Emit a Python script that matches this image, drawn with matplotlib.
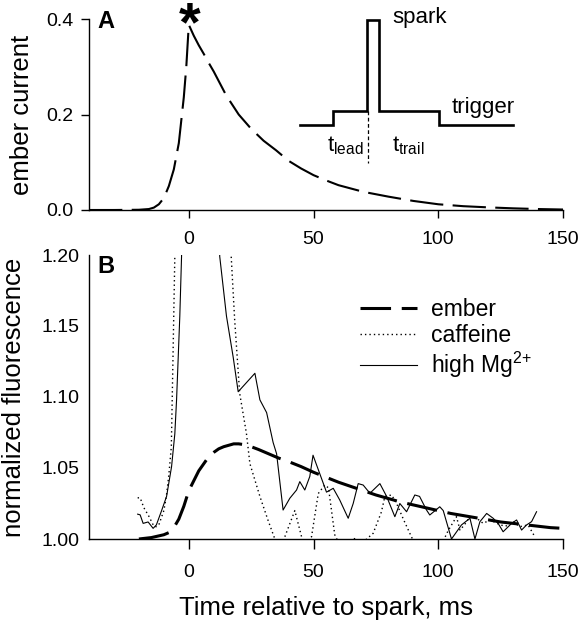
import matplotlib
matplotlib.use("Agg")
import matplotlib.pyplot as plt
from matplotlib.lines import Line2D

plt.rcParams['font.family'] = ['Liberation Sans', 'DejaVu Sans']
plt.rcParams['mathtext.fontset'] = 'custom'
plt.rcParams['mathtext.rm'] = 'Liberation Sans'
plt.rcParams['mathtext.it'] = 'Liberation Sans:italic'
plt.rcParams['mathtext.bf'] = 'Liberation Sans:bold'

# ---------------- data ----------------
# Panel A: ember current
ember_a_t = [-40, -30, -20, -16, -14, -12, -10, -8, -6, -4, -2, -1, 0,
             2, 4, 6, 8, 10, 15, 20, 25, 30, 35, 40, 45, 50, 55, 60, 70,
             80, 90, 100, 110, 120, 130, 140, 150]
ember_a_v = [0.0, 0.0, 0.0005, 0.002, 0.005, 0.012, 0.025, 0.05, 0.085, 0.14,
             0.236, 0.30, 0.388,
             0.365, 0.345, 0.327, 0.308, 0.29, 0.24, 0.20, 0.17, 0.145, 0.125,
             0.103, 0.087, 0.073, 0.062, 0.052, 0.038,
             0.028, 0.019, 0.012, 0.008, 0.0055, 0.0035, 0.002, 0.001]

# trigger schematic (inset in panel A)
trigger_t = [44.5, 57.9, 57.9, 71.3, 71.3, 76.3, 76.3, 100.4, 100.4, 130.0]
trigger_v = [0.178, 0.178, 0.207, 0.207, 0.397, 0.397, 0.207, 0.207, 0.178, 0.178]
spark_mark_t = [71.7, 71.7]
spark_mark_v = [0.207, 0.098]

# Panel B: ember (model) fluorescence
ember_b_t = [-20, -15, -10, -8, -6, -4, -2, 0, 2, 4, 6, 8, 10, 12, 14, 16, 18,
             20, 22, 25, 28, 32, 36, 40, 45, 50, 55, 60, 65, 70, 75, 80, 85,
             90, 95, 100, 105, 110, 115, 120, 125, 130, 135, 140, 145, 150]
ember_b_v = [1.0, 1.001, 1.003, 1.0045, 1.008, 1.014, 1.023, 1.034, 1.041,
             1.048, 1.053, 1.058, 1.061, 1.0635, 1.065, 1.066, 1.067, 1.067,
             1.0665, 1.065, 1.063, 1.060, 1.057, 1.0545, 1.051, 1.047, 1.0435,
             1.040, 1.037, 1.034, 1.031, 1.0285, 1.026, 1.024, 1.022, 1.020,
             1.018, 1.0165, 1.015, 1.0135, 1.012, 1.011, 1.010, 1.009, 1.008,
             1.0075]

# caffeine
caff_t = [-20.5, -19.5, -18, -16, -14, -13, -12, -10, -9, -8, -7, -6.3, -5.6,
          -4.5, -3, 0, 5, 10, 14, 17, 18.4, 20.4, 23.1, 24.5, 28.5, 31.8, 34.5,
          36.5, 38.5, 42.5, 45.2, 47, 49.2, 51.9, 54.5, 56, 58.5, 61, 63.5,
          65.9, 70, 73.9, 77.2, 78.6, 81.3, 83.3, 86, 88.6, 91, 96, 101,
          104, 107.3, 108.7, 110.5, 112.7, 115.4, 118, 120.7, 122.5, 124.7,
          127, 130, 132.7, 136, 138.7]
caff_v = [1.029, 1.029, 1.022, 1.016, 1.009, 1.0087, 1.010, 1.020, 1.030,
          1.045, 1.065, 1.131, 1.199,
          1.30, 1.5, 1.8, 1.9, 1.7, 1.4, 1.199, 1.154, 1.1026, 1.0744, 1.053,
          1.030, 1.013, 1.0,
          0.995, 1.0016, 1.020, 1.0016, 0.995, 1.0016, 1.032, 1.038, 1.036,
          1.003, 0.994, 0.992,
          1.0005, 0.998, 1.004, 1.019, 1.030, 1.031, 1.025, 1.014, 1.004,
          0.995, 0.99, 0.995,
          1.006, 1.0157, 1.0063, 1.010, 1.0157, 1.0146, 1.011, 1.0134, 1.012,
          1.010, 1.009, 1.0122, 1.0087, 1.0099, 1.0016]

# high Mg2+
mg_t = [-20.5, -19.5, -18.3, -16.3, -14.3, -13, -10.9, -8.9, -6.9, -5.6,
        -4.9, -3.6, -2.9, -2, 0, 5, 10, 12.4, 15.1, 17.8, 19.8, 26.5, 28.5,
        31.2, 33.8, 35.2, 37.8, 40.5, 43.2, 44.5, 46.5, 48.5, 49.8, 52.5,
        55.2, 57.9, 60.5, 63.9, 65.9, 67.9, 69.9, 72.6, 75.3, 76.6, 79.3,
        82.6, 84.6, 87.3, 90.6, 92.5, 95.3, 96.6, 100.6, 102, 105.3, 109.3,
        112.7, 114.7, 116.7, 119.4, 122, 124, 126, 129.4, 131.4, 133.4,
        135.4, 137.4, 139.4]
mg_v = [1.0175, 1.017, 1.011, 1.012, 1.0075, 1.0099, 1.020, 1.030, 1.051,
        1.074, 1.098, 1.157, 1.199, 1.3, 1.6, 1.8, 1.4, 1.199, 1.157, 1.128,
        1.1037, 1.1167, 1.098, 1.089, 1.068, 1.060, 1.0204, 1.0287, 1.0345,
        1.0404, 1.0345, 1.044, 1.059, 1.046, 1.033, 1.0357, 1.0275, 1.0146,
        1.025, 1.039, 1.038, 1.0322, 1.0368, 1.039, 1.030, 1.0157, 1.025,
        1.0192, 1.031, 1.030, 1.0204, 1.0169, 1.0227, 1.020, 1.0, 1.0099,
        1.0146, 1.0, 1.0122, 1.018, 1.0146, 1.011, 1.0051, 1.011, 1.0134,
        1.0063, 1.0099, 1.0122, 1.0192]

xticks = [0, 50, 100, 150]
a_yticks = [0.0, 0.2, 0.4]
a_yticklabels = ['0.0', '0.2', '0.4']
b_yticks = [1.00, 1.05, 1.10, 1.15, 1.20]
b_yticklabels = ['1.00', '1.05', '1.10', '1.15', '1.20']

# ---------------- figure ----------------
W, H = 580, 626
fig = plt.figure(figsize=(W / 100, H / 100), dpi=100)
axA = fig.add_axes([89 / W, 1 - 210 / H, 474 / W, 191 / H])
axB = fig.add_axes([89 / W, 1 - 539 / H, 474 / W, 284 / H])

for ax in (axA, axB):
    ax.spines['top'].set_visible(False)
    ax.spines['right'].set_visible(False)
    ax.spines['left'].set_linewidth(1.0)
    ax.spines['bottom'].set_linewidth(1.0)
    ax.set_xlim(-40, 150)
    ax.set_xticks(xticks)
    ax.set_xticklabels([str(t) for t in xticks])
    ax.tick_params(labelsize=14, colors='black', width=1.0)

# Panel A
axA.plot(ember_a_t, ember_a_v, color='black', lw=1.5, dashes=(16, 4.5))
axA.set_ylim(0, 0.4)
axA.set_yticks(a_yticks)
axA.set_yticklabels(a_yticklabels)
axA.tick_params(axis='x', length=6, pad=9)
axA.tick_params(axis='y', length=6, pad=5)
axA.set_ylabel('ember current', fontsize=18.5, labelpad=9)
axA.text(0.017, 0.987, 'A', transform=axA.transAxes, fontsize=17,
         fontweight='bold', ha='left', va='center')
axA.text(0.4, 0.356, '*', fontsize=40, fontweight='bold', ha='center',
         va='baseline', clip_on=False)

axA.plot(trigger_t, trigger_v, color='black', lw=1.9, solid_joinstyle='miter')
axA.plot(spark_mark_t, spark_mark_v, color='black', lw=0.9, dashes=(3, 2))
axA.text(81.5, 0.404, 'spark', fontsize=16, ha='left', va='center')
axA.text(105.3, 0.215, 'trigger', fontsize=16, ha='left', va='center')
axA.text(55.3, 0.135, r't$_{\mathrm{lead}}$', fontsize=16, ha='left', va='center')
axA.text(81.3, 0.135, r't$_{\mathrm{trail}}$', fontsize=16, ha='left', va='center')

# Panel B
axB.plot(ember_b_t, ember_b_v, color='black', lw=2.2, dashes=(10, 3.5))
axB.plot(caff_t, caff_v, color='black', lw=1.0, dashes=(1, 2.2))
axB.plot(mg_t, mg_v, color='black', lw=0.8)
axB.set_ylim(1.0, 1.2)
axB.set_yticks(b_yticks)
axB.set_yticklabels(b_yticklabels)
axB.tick_params(axis='x', length=7, pad=11)
axB.tick_params(axis='y', length=0, pad=7)
axB.set_ylabel('normalized fluorescence', fontsize=18.5, labelpad=11)
axB.set_xlabel('Time relative to spark, ms', fontsize=18.5, labelpad=11)
axB.text(0.017, 0.961, 'B', transform=axB.transAxes, fontsize=17,
         fontweight='bold', ha='left', va='center')

handles = [
    Line2D([], [], color='black', lw=2.2, dashes=(10, 3.5)),
    Line2D([], [], color='black', lw=1.0, dashes=(1, 2.2)),
    Line2D([], [], color='black', lw=0.8),
]
labels = ['ember', 'caffeine', r'high Mg$^{2{+}}$']
fig.legend(handles, labels, loc='upper left',
           bbox_to_anchor=(360 / W, 1 - 298 / H), frameon=False,
           fontsize=16.5, handlelength=2.5, handletextpad=0.6,
           labelspacing=0.12, borderpad=0, borderaxespad=0)

fig.savefig('out.png', dpi=100)
